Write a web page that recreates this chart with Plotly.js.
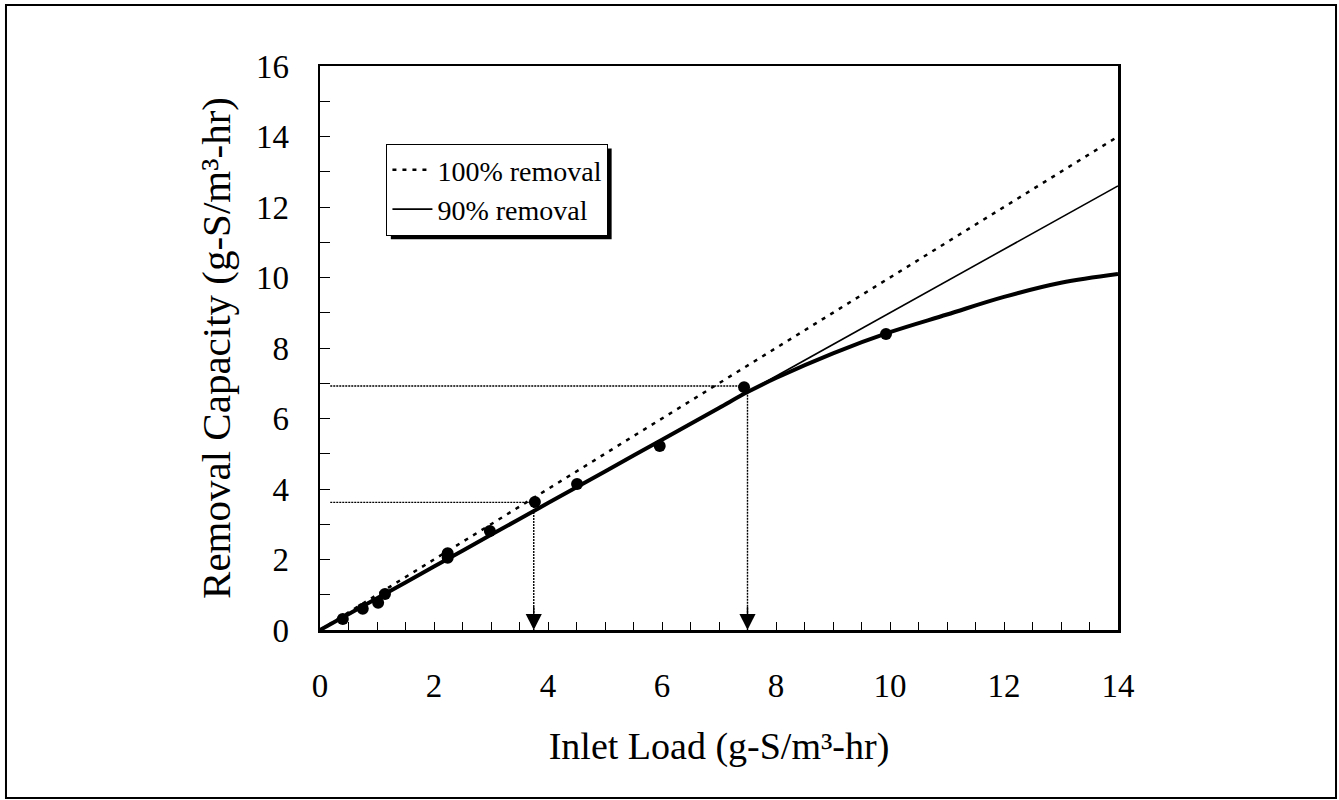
<!DOCTYPE html>
<html>
<head>
<meta charset="utf-8">
<script src="https://cdn.plot.ly/plotly-3.0.1.min.js"></script>
<style>
html,body{margin:0;padding:0;background:#fff;}
#chart{width:1339px;height:800px;}
</style>
</head>
<body>
<div id="chart"></div>
<script>
// Measured data points (inlet load, removal capacity)
var obsLoad     = [0.40, 0.75, 1.02, 1.14, 2.24, 2.24, 2.98, 3.77, 4.51, 5.96, 7.44, 9.93];
var obsRemoval  = [0.31, 0.60, 0.77, 1.02, 2.05, 2.18, 2.81, 3.63, 4.14, 5.22, 6.89, 8.40];

// Fitted curve (thick line)
var fitLoad     = [0, 1, 2, 3, 4, 5, 6, 7, 7.5, 8, 9, 10, 11, 12, 13, 14];
var fitRemoval  = [0, 0.9, 1.8, 2.7, 3.6, 4.5, 5.4, 6.3, 6.75, 7.15, 7.85, 8.45, 8.95, 9.45, 9.85, 10.1];

// Reference lines
var refLoad       = [0, 14];
var removal100    = [0, 14];
var removal90     = [0, 12.6];

// Guide lines (90% removal point readings)
var guideLoadA    = [0.18, 3.75, 3.75];
var guideRemA     = [3.62, 3.62, 0];
var guideLoadB    = [0.18, 7.5, 7.5];
var guideRemB     = [6.92, 6.92, 0];

// Axis ticks
var xTicks = [0, 2, 4, 6, 8, 10, 12, 14];
var yTicks = [0, 2, 4, 6, 8, 10, 12, 14, 16];

var FONT = 'Liberation Serif, Times New Roman, serif';

var traces = [
  {x: refLoad, y: removal100, mode: 'lines', name: '100% removal',
   line: {color: '#000', width: 2.5, dash: '4px,6px'}, hoverinfo: 'skip'},
  {x: refLoad, y: removal90, mode: 'lines', name: '90% removal',
   line: {color: '#000', width: 1.6}, hoverinfo: 'skip'},
  {x: fitLoad, y: fitRemoval, mode: 'lines', showlegend: false,
   line: {color: '#000', width: 4, shape: 'spline'}},
  {x: obsLoad, y: obsRemoval, mode: 'markers', showlegend: false,
   marker: {color: '#000', size: 12}},
  {x: guideLoadA, y: guideRemA, mode: 'lines', showlegend: false,
   line: {color: '#000', width: 1.4, dash: '2px,1px'}},
  {x: guideLoadB, y: guideRemB, mode: 'lines', showlegend: false,
   line: {color: '#000', width: 1.4, dash: '2px,1px'}}
];

var arrows = [
  {x: guideLoadA[2], y: guideRemA[2], ax: guideLoadA[2], ay: 0.7},
  {x: guideLoadB[2], y: guideRemB[2], ax: guideLoadB[2], ay: 0.7}
].map(function(a){
  return {x: a.x, y: a.y, ax: a.ax, ay: a.ay, xref: 'x', yref: 'y', axref: 'x', ayref: 'y',
    showarrow: true, arrowhead: 2, arrowsize: 2.3, arrowwidth: 1.4, arrowcolor: '#000', text: ''};
});

var frame = {type: 'rect', xref: 'paper', yref: 'paper', x0: -0.3935, x1: 1.2732, y0: -0.2979, y1: 1.1082,
     line: {color: '#000', width: 2}, fillcolor: 'rgba(0,0,0,0)', layer: 'below'};

var layout = {
  width: 1339, height: 800,
  margin: {l: 320, r: 221, t: 66, b: 170},
  paper_bgcolor: '#fff', plot_bgcolor: '#fff',
  font: {family: FONT, color: '#000'},
  showlegend: true,
  legend: {x: 0.083, y: 0.862, xanchor: 'left', yanchor: 'top',
    bgcolor: '#fff', bordercolor: '#000', borderwidth: 1.2,
    font: {family: FONT, size: 28, color: '#000'}, tracegroupgap: 0, itemwidth: 40},
  xaxis: {range: [0, 14], tickvals: xTicks, ticktext: xTicks.map(String),
    showgrid: false, zeroline: false, showline: true, linecolor: '#000', linewidth: 2.5, mirror: true,
    ticks: 'inside', ticklen: 8, tickwidth: 1, tickcolor: '#000',
    minor: {dtick: 0.5, tick0: 0, ticks: 'inside', ticklen: 8, tickwidth: 1, tickcolor: '#000'},
    ticklabelstandoff: 25,
    tickfont: {family: FONT, size: 33, color: '#000'},
    title: {text: 'Inlet Load (g-S/m³-hr)', font: {family: FONT, size: 38, color: '#000'}, standoff: 30},
    fixedrange: true},
  yaxis: {range: [0, 16], tickvals: yTicks, ticktext: yTicks.map(String),
    showgrid: false, zeroline: false, showline: true, linecolor: '#000', linewidth: 2.5, mirror: true,
    ticks: 'inside', ticklen: 10, tickwidth: 1, tickcolor: '#000',
    minor: {dtick: 1, tick0: 0, ticks: 'inside', ticklen: 10, tickwidth: 1, tickcolor: '#000'},
    ticklabelstandoff: 22,
    tickfont: {family: FONT, size: 33, color: '#000'},
    title: {text: 'Removal Capacity (g-S/m³-hr)', font: {family: FONT, size: 41, color: '#000'}, standoff: 13},
    fixedrange: true},
  annotations: arrows,
  shapes: [frame]
};

Plotly.newPlot('chart', traces, layout, {displayModeBar: false, staticPlot: true}).then(function(gd){
  // drop shadow behind the legend box (offset down/right)
  var bg = gd.querySelector('.legend .bg');
  if (!bg) return;
  var r = bg.getBoundingClientRect();
  var host = gd.getBoundingClientRect();
  var fs = gd._fullLayout._size;
  var off = 4;
  var toX = function(px){ return (px - host.left - fs.l) / fs.w; };
  var toY = function(py){ return 1 - (py - host.top - fs.t) / fs.h; };
  var shadow = {type: 'rect', xref: 'paper', yref: 'paper',
    x0: toX(r.left + off), x1: toX(r.right + off), y0: toY(r.bottom + off), y1: toY(r.top + off),
    line: {width: 0}, fillcolor: '#000', layer: 'above'};
  return Plotly.relayout(gd, {shapes: [frame, shadow]});
});
</script>
</body>
</html>
